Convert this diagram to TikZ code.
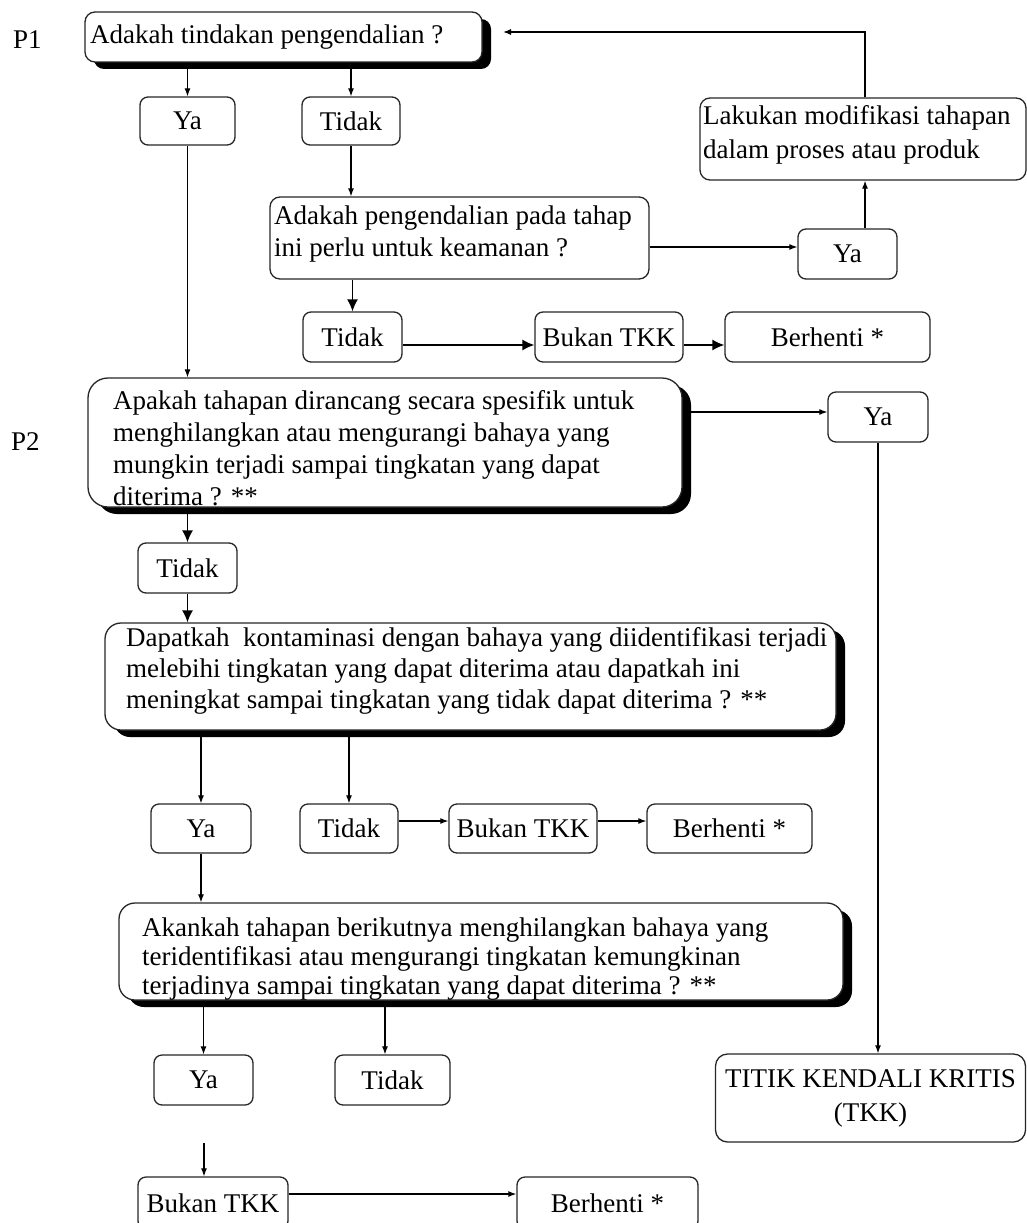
\documentclass[tikz,border=0pt]{standalone}
\usepackage{fontspec}
\setmainfont{Liberation Serif}
\usetikzlibrary{arrows.meta,shadows}
\begin{document}
\begin{tikzpicture}[x=1pt,y=-1pt,
  font=\fontsize{27}{32}\selectfont,
  box/.style={draw=black!85, line width=1.3pt, rounded corners=8pt, fill=white, inner sep=0pt},
  sbox/.style={box, drop shadow={shadow xshift=9pt, shadow yshift=-7pt, fill=black, opacity=1}},
  txt/.style={inner sep=0pt, align=left, anchor=west},
  arr/.style={line width=1.2pt, -{Latex[length=8pt,width=6pt]}},
  harr/.style={line width=1.4pt, -{Latex[length=12pt,width=11pt]}}
]
\useasboundingbox (0,0) rectangle (1027,1223);
\clip (0,0) rectangle (1027,1223);

% labels
\node[txt] (p1l) at (13,40) {P1};
\node[txt] (p2l) at (11,442) {P2};

% boxes
\node[sbox, rounded corners=10pt, minimum width=397pt, minimum height=50pt] (b1) at (283.5,37) {};
\node[txt] (b1t) at (90,37) {Adakah tindakan pengendalian ?};

\node[box, minimum width=95pt, minimum height=48pt] (ya1) at (187.5,121) {Ya};
\node[box, minimum width=98pt, minimum height=48pt] (tidak1) at (351,121) {Tidak};

\node[box, rounded corners=10pt, minimum width=326pt, minimum height=82pt] (lak) at (863,139) {};
\node[txt, font=\fontsize{27}{34}\selectfont] (lakt) at (703,135) {Lakukan modifikasi tahapan\\dalam proses atau produk};

\node[box, rounded corners=10pt, minimum width=379pt, minimum height=82pt] (q2) at (459.5,238) {};
\node[txt] (q2t) at (274,234) {Adakah pengendalian pada tahap\\ini perlu untuk keamanan ?};

\node[box, minimum width=99pt, minimum height=50pt] (ya2) at (847.5,254) {Ya};
\node[box, minimum width=99pt, minimum height=50pt] (tidak2) at (352.5,337) {Tidak};
\node[box, minimum width=148pt, minimum height=50pt] (bukan1) at (609,337) {Bukan TKK};
\node[box, minimum width=205pt, minimum height=50pt] (berhenti1) at (827.5,337) {Berhenti *};

\node[sbox, rounded corners=20pt, minimum width=594pt, minimum height=129pt] (p2) at (385,442.5) {};
\node[txt] (p2t) at (113,448) {Apakah tahapan dirancang secara spesifik untuk\\menghilangkan atau mengurangi bahaya yang\\mungkin terjadi sampai tingkatan yang dapat\\diterima ? **};

\node[box, minimum width=100pt, minimum height=50pt] (ya3) at (878,417) {Ya};
\node[box, minimum width=99pt, minimum height=50pt] (tidak3) at (187.5,568) {Tidak};

\node[sbox, rounded corners=16pt, minimum width=731pt, minimum height=107pt] (p3) at (470.5,676.5) {};
\node[txt, font=\fontsize{27}{31}\selectfont] (p3t) at (126,671) {Dapatkah\ \ kontaminasi dengan bahaya yang diidentifikasi terjadi\\melebihi tingkatan yang dapat diterima atau dapatkah ini\\meningkat sampai tingkatan yang tidak dapat diterima ? **};

\node[box, minimum width=100pt, minimum height=49pt] (ya4) at (201,828.5) {Ya};
\node[box, minimum width=98pt, minimum height=49pt] (tidak4) at (349,828.5) {Tidak};
\node[box, minimum width=148pt, minimum height=49pt] (bukan2) at (523,828.5) {Bukan TKK};
\node[box, minimum width=165pt, minimum height=49pt] (berhenti2) at (729.5,828.5) {Berhenti *};

\node[sbox, rounded corners=16pt, minimum width=724pt, minimum height=97pt] (p4) at (481,951.5) {};
\node[txt, font=\fontsize{27}{29}\selectfont] (p4t) at (142,959) {Akankah tahapan berikutnya menghilangkan bahaya yang\\teridentifikasi atau mengurangi tingkatan kemungkinan\\terjadinya sampai tingkatan yang dapat diterima ? **};

\node[box, minimum width=99pt, minimum height=50pt] (ya5) at (203.5,1080) {Ya};
\node[box, minimum width=115pt, minimum height=50pt] (tidak5) at (392.5,1080) {Tidak};

\node[box, rounded corners=12pt, minimum width=310pt, minimum height=88pt, align=center, font=\fontsize{27}{34}\selectfont] (tkk) at (870.5,1098) {TITIK KENDALI KRITIS\\(TKK)};

\node[box, minimum width=150pt, minimum height=52pt] (bukan3) at (213,1203) {Bukan TKK};
\node[box, minimum width=181pt, minimum height=52pt] (berhenti3) at (607.5,1203) {Berhenti *};

% connectors
\coordinate (fb) at (503,32);
\coordinate (free) at (204,1143);

\draw[arr] (b1.south -| ya1) -- (ya1.north);
\draw[arr] (b1.south -| tidak1) -- (tidak1.north);
\draw[arr] (tidak1.south) -- (tidak1.south |- q2.north);
\draw[arr] ([yshift=-9pt]q2.east) -- ([yshift=-9pt]q2.east -| ya2.west);
\draw[arr] ([xshift=17.5pt]ya2.north) -- ([xshift=17.5pt]ya2.north |- lak.south);
\draw[arr] ([xshift=2pt]lak.north) |- (fb);
\draw[harr] (q2.south -| tidak2) -- (tidak2.north);
\draw[harr] ([yshift=-8pt]tidak2.east) -- ([yshift=-8pt]tidak2.east -| bukan1.west);
\draw[harr] ([yshift=-8pt]bukan1.east) -- ([yshift=-8pt]bukan1.east -| berhenti1.west);
\draw[arr] (ya1.south) -- (ya1.south |- p2.north);
\draw[arr] ([yshift=30.5pt]p2.east) -- ([yshift=30.5pt]p2.east -| ya3.west);
\draw[arr] (ya3.south) -- (ya3.south |- tkk.north);
\draw[harr] (p2.south -| tidak3) -- (tidak3.north);
\draw[harr] (tidak3.south) -- (tidak3.south |- p3.north);
\draw[arr] (p3.south -| ya4) -- (ya4.north);
\draw[arr] (p3.south -| tidak4) -- (tidak4.north);
\draw[arr] ([yshift=7.5pt]tidak4.east) -- ([yshift=7.5pt]tidak4.east -| bukan2.west);
\draw[arr] ([yshift=7.5pt]bukan2.east) -- ([yshift=7.5pt]bukan2.east -| berhenti2.west);
\draw[arr] (ya4.south) -- (ya4.south |- p4.north);
\draw[arr] (p4.south -| ya5) -- (ya5.north);
\draw[arr] ([xshift=-7.5pt]tidak5.north |- p4.south) -- ([xshift=-7.5pt]tidak5.north);
\draw[arr] (free) -- (free |- bukan3.north);
\draw[arr] ([yshift=9pt]bukan3.east) -- ([yshift=9pt]bukan3.east -| berhenti3.west);
\end{tikzpicture}
\end{document}
